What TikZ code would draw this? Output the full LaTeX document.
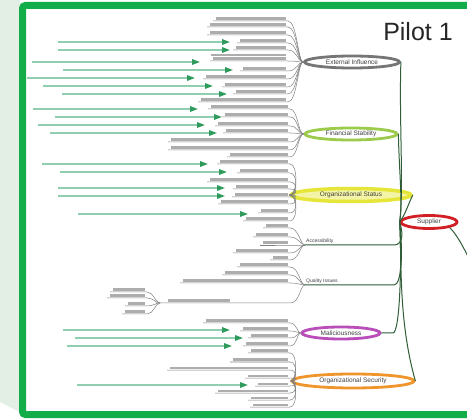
\documentclass[tikz,border=0pt]{standalone}
\usepackage{fontspec}
\setmainfont{Liberation Sans}
\usepackage{xcolor}
\usetikzlibrary{shapes.geometric, arrows.meta, positioning}
\definecolor{framegreen}{HTML}{12AD48}
\definecolor{palebg}{HTML}{E3EFE5}
\definecolor{extgray}{HTML}{767676}
\definecolor{fingreen}{HTML}{9CCB4C}
\definecolor{statyellow}{HTML}{E6E63A}
\definecolor{supred}{HTML}{D21F25}
\definecolor{malpurple}{HTML}{B94DBA}
\definecolor{secorange}{HTML}{F0952B}
\definecolor{trunkgreen}{HTML}{2F5E38}
\definecolor{feedline}{HTML}{8FCFB0}
\definecolor{feedhead}{HTML}{2E9A5C}
\tikzset{
  cat/.style={ellipse, line width=2.8pt, inner sep=0pt, minimum height=12pt, font=\fontsize{6.5}{7}\selectfont, text=black!75},
  sublbl/.style={inner sep=1pt, font=\fontsize{5}{6}\selectfont, text=black!75},
  leaftext/.style={fill=black!32},
  leaf/.style={draw=black!50, line width=0.5pt},
  trunk/.style={draw=trunkgreen, line width=1pt},
  feed/.style={draw=feedline, line width=1.5pt, -{Triangle[length=8pt, width=5.5pt, color=feedhead]}},
}

\begin{document}
\begin{tikzpicture}[x=1pt, y=-1pt]
  \clip (0,0) rectangle (467,420);
  \fill[white] (0,0) rectangle (467,420);
  \fill[palebg] (0,0) -- (20,0) -- (20,412) -- (0,402) -- cycle;
  \draw[framegreen, line width=7pt, rounded corners=3pt] (22.5,5.5) rectangle (500,414.5);
  \node[font=\fontsize{25}{28}\selectfont, text=black!85] (title) at (418,32) {Pilot 1};

  % categories
  \node[cat, draw=extgray, minimum width=95pt] (ext) at (352,62) {External Influence};
  \node[cat, draw=fingreen, minimum width=92pt] (fin) at (351,134) {Financial Stability};
  \node[cat, draw=statyellow, fill=statyellow!45, line width=3.5pt, minimum width=120pt, minimum height=13pt] (stat) at (351,195) {Organizational Status};
  \node[cat, draw=supred, minimum width=56pt, minimum height=13pt] (sup) at (429,222) {Supplier};
  \node[cat, draw=malpurple, minimum width=78pt] (mal) at (341,333) {Maliciousness};
  \node[cat, draw=secorange, minimum width=122pt, minimum height=14pt] (sec) at (353,381) {Organizational Security};
  \coordinate (acc) at (305,245);
  \node[sublbl, anchor=south west] (acctext) at (acc) {Accessibility};
  \coordinate (qual) at (305,285);
  \node[sublbl, anchor=south west] (qualtext) at (qual) {Quality Issues};
  \coordinate (proc) at (160,303);
  \coordinate (out) at (472,265);

  % trunk
  \draw[trunk] (ext.east) .. controls (399,120) and (404,190) .. (sup.west);
  \draw[trunk] (fin.east) .. controls (399,170) and (403,205) .. (sup.west);
  \draw[trunk] (stat.east) .. controls (408,205) and (405,215) .. (sup.west);
  \draw[trunk] (acc) -- (394,245) .. controls (402,245) and (404,235) .. (sup.west);
  \draw[trunk] (qual) -- (394,285) .. controls (402,285) and (403,250) .. (sup.west);
  \draw[trunk] (mal.east) -- (393,333) .. controls (400,333) and (402,260) .. (sup.west);
  \draw[trunk] (sec.east) .. controls (398,320) and (402,260) .. (sup.west);
  \draw[trunk] (sup.south east) .. controls (458,236) and (465,250) .. (out);

  % leaves
  \foreach \y/\xl in {21/213,27/207,35/207,43/237,50/233,61/210,71/240,79/203,87/222,94/233,102/198}
    {\fill[leaftext] ({\xl+3},{\y-3.5}) rectangle (286,{\y-1.2});
     \draw[leaf] (\xl,\y) -- (288,\y) .. controls (297,\y) and (298,62) .. (ext.west);}
  \fill[leaftext] (211,53.8) rectangle (286,56);
  \foreach \y/\xl in {109/208,117/222,126/215,133/223,142/168,150/168,157/227}
    {\fill[leaftext] ({\xl+3},{\y-3.5}) rectangle (288,{\y-1.2});
     \draw[leaf] (\xl,\y) -- (290,\y) .. controls (298,\y) and (298,134) .. (fin.west);}
  \foreach \y/\xl in {164/217,173/237,182/207,189/233,197/232,204/218,213/258,221/243}
    {\fill[leaftext] ({\xl+3},{\y-3.5}) rectangle (288,{\y-1.2});
     \draw[leaf] (\xl,\y) -- (290,\y) .. controls (298,\y) and (298,195) .. (stat.west);}
  \foreach \y/\xl in {228/263,237/253,245/260,253/233,260/270}
    {\fill[leaftext] ({\xl+3},{\y-3.5}) rectangle (288,{\y-1.2});
     \draw[leaf] (\xl,\y) -- (290,\y) .. controls (299,\y) and (300,245) .. (acc);}
  \foreach \y/\xl in {267/237,275/222,283/180}
    {\fill[leaftext] ({\xl+3},{\y-3.5}) rectangle (288,{\y-1.2});
     \draw[leaf] (\xl,\y) -- (290,\y) .. controls (299,\y) and (300,285) .. (qual);}
  \fill[leaftext] (168,299.5) rectangle (230,301.8);
  \draw[leaf] (proc) -- (290,303) .. controls (300,303) and (300,285) .. (qual);
  \foreach \y/\xl in {292/110,298/107,306/125,314/122}
    {\fill[leaftext] ({\xl+3},{\y-3.5}) rectangle (145,{\y-1.2});
     \draw[leaf] (\xl,\y) -- (147,\y) .. controls (154,\y) and (155,303) .. (proc);}
  \foreach \y/\xl in {323/203,331/240,338/248,346/243}
    {\fill[leaftext] ({\xl+3},{\y-3.5}) rectangle (288,{\y-1.2});
     \draw[leaf] (\xl,\y) -- (290,\y) .. controls (297,\y) and (297,333) .. (mal.west);}
  \foreach \y/\xl in {353/248,362/230,370/167,378/245,386/255,393/215,400/248,407/250}
    {\fill[leaftext] ({\xl+3},{\y-3.5}) rectangle (288,{\y-1.2});
     \draw[leaf] (\xl,\y) -- (290,\y) .. controls (298,\y) and (297,381) .. (sec.west);}

  % incoming links
  \foreach \y/\xa/\xb in {42/58/230,50/58/230,62/32/200,70/63/233,78/27/195,86/43/213,94/62/227,
      109/33/198,117/55/222,125/38/205,133/50/217,
      164/42/208,172/60/227,188/58/225,196/58/225,214/78/248,
      330/63/230,338/75/243,346/67/232,385/77/248}
    \draw[feed] (\xa,\y) -- (\xb,\y);
\end{tikzpicture}
\end{document}
